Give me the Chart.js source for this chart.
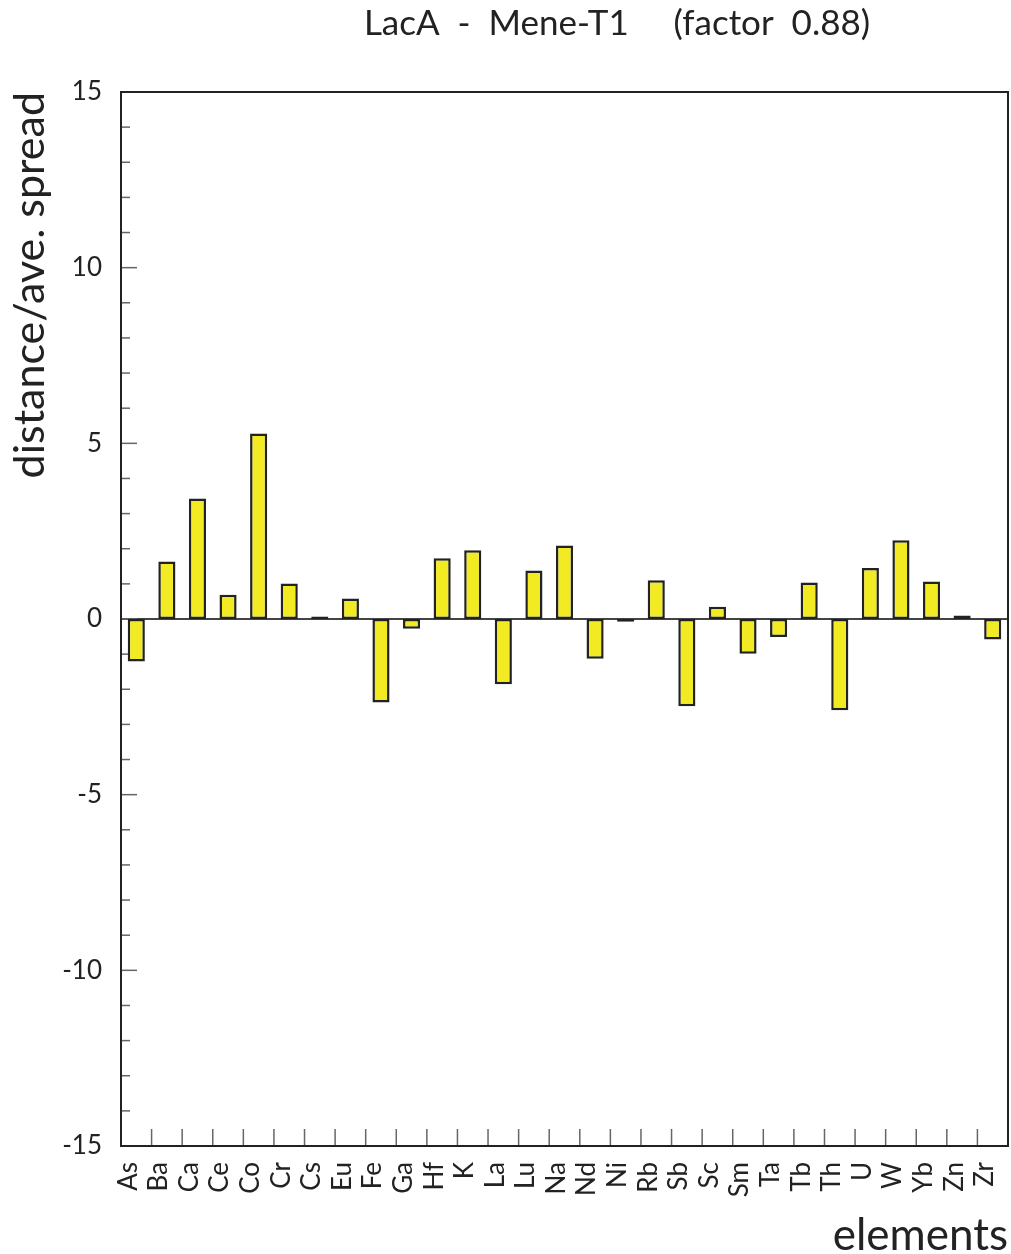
<!DOCTYPE html>
<html>
<head>
<meta charset="utf-8">
<script src="https://cdn.jsdelivr.net/npm/chart.js@4.4.0/dist/chart.umd.min.js"></script>
<style>
    html, body { margin: 0; padding: 0; background: #fff; }
    #wrap { width: 1011px; height: 1254px; }
</style>
</head>
<body>
<div id="wrap"><canvas id="spreadChart" width="1011" height="1254"></canvas></div>
<script>
const elements = ['As', 'Ba', 'Ca', 'Ce', 'Co', 'Cr', 'Cs', 'Eu', 'Fe', 'Ga', 'Hf', 'K', 'La', 'Lu', 'Na',
    'Nd', 'Ni', 'Rb', 'Sb', 'Sc', 'Sm', 'Ta', 'Tb', 'Th', 'U', 'W', 'Yb', 'Zn', 'Zr'];
const distances = [-1.21, 1.64, 3.43, 0.69, 5.28, 1.01, 0.07, 0.58, -2.38, -0.28, 1.73, 1.96, -1.86, 1.38, 2.09,
    -1.13, -0.08, 1.10, -2.48, 0.35, -0.99, -0.51, 1.04, -2.60, 1.45, 2.24, 1.07, 0.10, -0.58];
const yTicks = [-15, -10, -5, 0, 5, 10, 15];
const titleText = 'LacA  -  Mene-T1     (factor  0.88)';

const FONT = 'Lato, "Open Sans", sans-serif';

// frame, zero line and inward tick marks
const framePlugin = {
    id: 'frame',
    beforeDatasetsDraw(chart) {
        const { ctx, chartArea: a, scales: { x, y } } = chart;
        ctx.save();
        ctx.strokeStyle = '#444';
        ctx.lineWidth = 2;
        const y0 = y.getPixelForValue(0);
        ctx.beginPath();
        ctx.moveTo(a.left, y0);
        ctx.lineTo(a.right, y0);
        ctx.stroke();

        ctx.strokeStyle = '#666';
        ctx.lineWidth = 1.5;
        for (let v = yTicks[0]; v <= yTicks[yTicks.length - 1]; v++) {
            const py = y.getPixelForValue(v);
            const len = v % 5 === 0 ? 16 : 9;
            ctx.beginPath();
            ctx.moveTo(a.left, py);
            ctx.lineTo(a.left + len, py);
            ctx.stroke();
        }
        for (let i = 1; i < elements.length; i++) {
            const px = (x.getPixelForValue(i - 1) + x.getPixelForValue(i)) / 2;
            ctx.beginPath();
            ctx.moveTo(px, a.bottom);
            ctx.lineTo(px, a.bottom - 17);
            ctx.stroke();
        }
        ctx.restore();
    },
    afterDraw(chart) {
        const { ctx, chartArea: a } = chart;
        ctx.save();
        ctx.strokeStyle = '#222';
        ctx.lineWidth = 2;
        ctx.strokeRect(a.left, a.top, a.right - a.left, a.bottom - a.top);

        ctx.fillStyle = '#222';
        ctx.font = '35px ' + FONT;
        ctx.textAlign = 'center';
        ctx.textBaseline = 'middle';
        ctx.fillText(titleText, 617, 24);
        ctx.restore();
    }
};

new Chart(document.getElementById('spreadChart'), {
    type: 'bar',
    data: {
        labels: elements,
        datasets: [{
            data: distances,
            backgroundColor: '#f2ea22',
            borderColor: '#222',
            borderWidth: 2.5,
            borderSkipped: false,
            barPercentage: 0.56,
            categoryPercentage: 1
        }]
    },
    options: {
        responsive: false,
        animation: false,
        layout: { padding: { top: 92, right: 3, left: 0, bottom: 0 } },
        plugins: {
            legend: { display: false },
            tooltip: { enabled: false }
        },
        scales: {
            x: {
                offset: true,
                grid: { display: false },
                border: { display: false },
                ticks: {
                    color: '#222',
                    font: { family: FONT, size: 26 },
                    minRotation: 90,
                    maxRotation: 90,
                    autoSkip: false,
                    padding: 8,
                    labelOffset: -8
                },
                title: {
                    display: true,
                    text: 'elements',
                    align: 'end',
                    color: '#222',
                    font: { family: FONT, size: 44, lineHeight: 1 },
                    padding: { top: 0, bottom: -4 }
                },
                afterFit(scale) {
                    scale.height = 108;
                    scale.paddingLeft = 0;
                    scale.paddingRight = 0;
                }
            },
            y: {
                min: -15,
                max: 15,
                grid: { display: false },
                border: { display: false },
                afterBuildTicks(scale) { scale.ticks = yTicks.map(v => ({ value: v })); },
                ticks: {
                    color: '#222',
                    font: { family: FONT, size: 26 },
                    padding: 11
                },
                title: {
                    display: true,
                    text: 'distance/ave. spread',
                    align: 'end',
                    color: '#222',
                    font: { family: FONT, size: 43 },
                    padding: { top: 4, bottom: 0 }
                },
                afterFit(scale) {
                    scale.width = 121;
                    scale.paddingTop = 0;
                    scale.paddingBottom = 0;
                }
            }
        }
    },
    plugins: [framePlugin]
});
</script>
</body>
</html>
